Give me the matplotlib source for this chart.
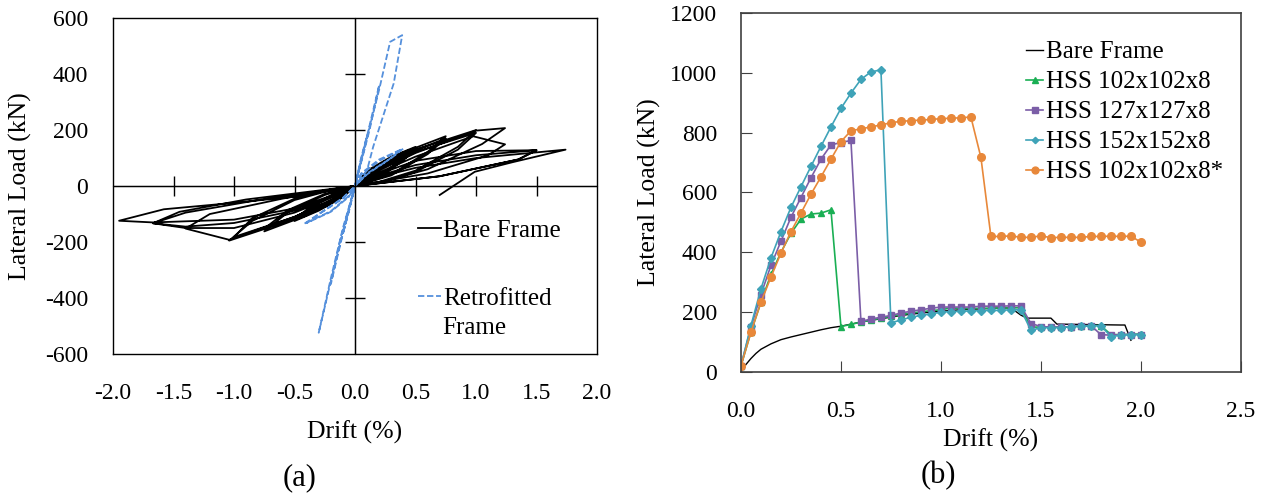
import matplotlib.pyplot as plt

plt.rcParams['font.family'] = ['Liberation Serif', 'DejaVu Serif']
plt.rcParams['axes.unicode_minus'] = False

# ---- (a) cyclic response: bare frame vs retrofitted frame ----
bare_drift = [0.00, 0.08, 0.25, 0.18, 0.08, 0.00, -0.08, -0.25, -0.15, -0.05, 0.00,
              0.10, 0.30, 0.50, 0.40, 0.20, 0.00, -0.10, -0.30, -0.50, -0.35, -0.15, 0.00,
              0.10, 0.30, 0.50, 0.40, 0.20, 0.00, -0.10, -0.30, -0.50, -0.35, -0.15, 0.00,
              0.10, 0.40, 0.75, 0.60, 0.30, 0.00, -0.10, -0.40, -0.75, -0.55, -0.25, 0.00,
              0.10, 0.40, 0.75, 0.60, 0.30, 0.00, -0.10, -0.40, -0.75, -0.55, -0.25, 0.00,
              0.10, 0.50, 1.00, 0.85, 0.50, 0.20, 0.00, -0.10, -0.50, -1.04, -0.85, -0.50, -0.20, 0.00,
              0.10, 0.50, 1.00, 0.85, 0.50, 0.20, 0.00, -0.10, -0.50, -1.00, -0.85, -0.50, -0.20, 0.00,
              0.10, 0.50, 1.00, 1.24, 1.05, 0.60, 0.20, 0.00, -0.10, -0.50, -1.04, -1.40, -1.20, -0.60, 0.00,
              0.10, 0.50, 0.975, 1.24, 1.10, 0.60, 0.00, -0.10, -0.50, -1.00, -1.40, -1.67, -1.40, -0.80, 0.00,
              0.10, 0.50, 1.00, 1.50, 1.35, 0.70, 0.00, -0.10, -0.50, -1.00, -1.40, -1.67, -1.45, -0.90, 0.00,
              0.10, 0.50, 1.00, 1.50, 1.35, 0.70, 0.00, -0.10, -0.50, -1.00, -1.67, -1.95, -1.58, -1.00, -0.50, 0.00,
              0.10, 0.50, 1.00, 1.74, 1.30, 0.99, 0.70]
bare_load = [0, 40, 90, 55, 18, 0, -30, -75, -40, -10, 0,
             55, 105, 140, 100, 35, 0, -40, -88, -125, -75, -25, 0,
             48, 95, 132, 92, 30, 0, -35, -80, -118, -68, -22, 0,
             50, 120, 178, 122, 42, 0, -38, -105, -162, -92, -32, 0,
             44, 110, 170, 114, 38, 0, -34, -96, -152, -85, -28, 0,
             45, 130, 200, 140, 55, 15, 0, -35, -118, -195, -125, -50, -15, 0,
             40, 122, 190, 130, 50, 12, 0, -32, -110, -182, -115, -45, -12, 0,
             35, 118, 198, 207, 150, 60, 12, 0, -30, -110, -192, -152, -100, -45, 0,
             30, 105, 178, 149, 110, 45, 0, -25, -95, -150, -150, -133, -95, -50, 0,
             28, 90, 125, 128, 95, 35, 0, -22, -88, -132, -145, -133, -92, -48, 0,
             25, 75, 110, 128, 95, 35, 0, -20, -80, -120, -130, -124, -83, -60, -38, 0,
             22, 65, 100, 130, 85, 51, -32]

retro_drift = [0.00, 0.05, 0.20, 0.40, 0.30, 0.10, 0.00, -0.05, -0.20, -0.42, -0.30, -0.10, 0.00,
               0.05, 0.20, 0.38, 0.28, 0.10, 0.00, -0.05, -0.20, -0.40, -0.28, -0.10, 0.00,
               0.05, 0.10, 0.05, 0.00, -0.05, -0.10, -0.05, 0.00,
               0.10, 0.20, 0.12, 0.00, -0.10, -0.20, -0.12, 0.00,
               0.10, 0.20, 0.29, 0.39, 0.32, 0.15, 0.10, 0.00, -0.10, -0.20, -0.30, -0.20, -0.10, 0.00]
retro_load = [0, 40, 90, 134, 100, 45, 0, -35, -90, -135, -100, -45, 0,
              45, 95, 130, 95, 42, 0, -38, -92, -132, -95, -42, 0,
              90, 180, 100, 0, -85, -170, -90, 0,
              180, 360, 200, 0, -170, -350, -190, 0,
              175, 345, 515, 539, 367, 140, 57, 0, -165, -340, -524, -330, -150, 0]

# ---- (b) pushover curves ----
drift_b = [0.00, 0.05, 0.10, 0.15, 0.20, 0.25, 0.30, 0.35, 0.40, 0.45, 0.50,
           0.55, 0.60, 0.65, 0.70, 0.75, 0.80, 0.85, 0.90, 0.95, 1.00,
           1.05, 1.10, 1.15, 1.20, 1.25, 1.30, 1.35, 1.40, 1.45, 1.50,
           1.55, 1.60, 1.65, 1.70, 1.75, 1.80, 1.85, 1.90, 1.95, 2.00]

bare_b_drift = [0.00, 0.025, 0.05, 0.075, 0.10, 0.15, 0.20, 0.25, 0.30, 0.35, 0.40, 0.45, 0.50,
                0.60, 0.70, 0.80, 0.90, 1.00, 1.10, 1.20, 1.30, 1.35, 1.40, 1.43, 1.55, 1.58,
                1.90, 1.92, 1.95]
bare_b_load = [0, 25, 45, 62, 76, 94, 108, 117, 125, 133, 141, 148, 153,
               167, 178, 189, 197, 203, 208, 211, 214, 214, 190, 180, 180, 160,
               157, 157, 106]

hss102 = [20, 133, 233, 326, 400, 463, 511, 528, 531, 542, 152,
          159, 167, 173, 180, 186, 192, 197, 201, 205, 208,
          214, 212, 212, 213, 213, 214, 214, 215, 150, 150,
          150, 150, 151, 153, 155, 155, 125, 125, 126, 127]
hss127 = [20, 150, 259, 356, 437, 517, 583, 649, 711, 759, 767,
          774, 169, 177, 183, 189, 197, 203, 208, 213, 217,
          217, 217, 217, 220, 220, 220, 221, 221, 162, 152,
          150, 150, 151, 155, 155, 125, 123, 125, 125, 125]
hss152 = [20, 155, 278, 381, 469, 550, 619, 687, 754, 819, 881,
          932, 978, 1003, 1010, 164, 174, 183, 189, 194, 200,
          202, 203, 204, 205, 206, 206, 208, 208, 139, 148,
          148, 148, 152, 153, 155, 155, 118, 123, 125, 125]
hss102s = [20, 133, 233, 317, 397, 469, 531, 594, 652, 711, 770,
           806, 813, 819, 826, 833, 838, 840, 842, 844, 847,
           848, 850, 852, 717, 453, 453, 455, 450, 450, 455,
           449, 450, 450, 450, 453, 453, 454, 453, 454, 434]

fig = plt.figure(figsize=(12.67, 4.94), dpi=100)

# ---------- panel (a) ----------
ax = fig.add_axes([0.0892, 0.2834, 0.382, 0.680])
ax.plot(bare_drift, bare_load, color='black', lw=1.3, label='Bare Frame')
ax.plot(retro_drift, retro_load, color='#5590dc', lw=1.3, ls=(0, (3.5, 1.5)),
        label='Retrofitted')
ax.set_xlim(-2, 2)
ax.set_ylim(-600, 600)
ax.set_xticks([-2.0, -1.5, -1.0, -0.5, 0.0, 0.5, 1.0, 1.5, 2.0])
ax.set_xticklabels(['%.1f' % v for v in ax.get_xticks()])
ax.set_yticks([-600, -400, -200, 0, 200, 400, 600])
ax.tick_params(length=0, labelsize=17)
ax.tick_params(axis='x', pad=21)
ax.tick_params(axis='y', pad=18)
for s in ax.spines.values():
    s.set_linewidth(1.0)
ax.axhline(0, color='black', lw=1.0)
ax.axvline(0, color='black', lw=1.0)
ax.set_xlabel('Drift (%)', fontsize=18.5, va='top')
ax.xaxis.set_label_coords(0.5, -0.199)
ax.set_ylabel('Lateral Load (kN)', fontsize=18.5)
ax.yaxis.set_label_coords(-0.167, 0.5)
ax.legend(loc='upper left', bbox_to_anchor=(0.61, 0.43), frameon=False,
          fontsize=18, handlelength=0.9, handletextpad=0.1, labelspacing=1.8,
          borderaxespad=0)
ax.text(0.681, 0.06, 'Frame', transform=ax.transAxes, fontsize=18,
        ha='left', va='baseline')

# crossing tick marks on the zero axes
axz = fig.add_axes(ax.get_position(), facecolor='none')
axz.set_xlim(-2, 2)
axz.set_ylim(-600, 600)
axz.spines['top'].set_visible(False)
axz.spines['right'].set_visible(False)
axz.spines['left'].set_position(('data', 0))
axz.spines['bottom'].set_position(('data', 0))
axz.set_xticks([-1.5, -1.0, -0.5, 0.5, 1.0, 1.5])
axz.set_yticks([-400, -200, 200, 400])
axz.tick_params(direction='inout', length=14, width=1.0,
                labelbottom=False, labelleft=False)

# ---------- panel (b) ----------
bx = fig.add_axes([0.5848, 0.247, 0.3946, 0.7267])
bx.plot(bare_b_drift, bare_b_load, color='black', lw=1.0, label='Bare Frame')
bx.plot(drift_b, hss102, color='#1aaf54', lw=1.2, marker='^', ms=5,
        label='HSS 102x102x8')
bx.plot(drift_b, hss127, color='#7b5ea7', lw=1.2, marker='s', ms=5,
        label='HSS 127x127x8')
bx.plot(drift_b, hss152, color='#3fa3b8', lw=1.2, marker='D', ms=3.6,
        label='HSS 152x152x8')
bx.plot(drift_b, hss102s, color='#e8883a', lw=1.2, marker='o', ms=5.5,
        label='HSS 102x102x8*')
bx.set_xlim(0, 2.5)
bx.set_ylim(0, 1200)
bx.set_xticks([0.0, 0.5, 1.0, 1.5, 2.0, 2.5])
bx.set_xticklabels(['%.1f' % v for v in bx.get_xticks()])
bx.set_yticks([0, 200, 400, 600, 800, 1000, 1200])
bx.tick_params(direction='in', length=8, color='#404040', labelsize=17)
bx.tick_params(axis='x', pad=21)
bx.tick_params(axis='y', pad=17)
for s in bx.spines.values():
    s.set_color('#404040')
    s.set_linewidth(1.2)
bx.set_xlabel('Drift (%)', fontsize=18.5, va='top')
bx.xaxis.set_label_coords(0.5, -0.159)
bx.set_ylabel('Lateral Load (kN)', fontsize=18.5)
bx.yaxis.set_label_coords(-0.16, 0.5)
bx.legend(loc='upper left', bbox_to_anchor=(0.55, 0.95), frameon=False,
          fontsize=18, handlelength=0.7, handletextpad=0.1, labelspacing=0.3,
          borderaxespad=0, markerscale=0.9)

fig.text(300 / 1267, 1 - 478 / 494, '(a)', fontsize=22, ha='center', va='center')
fig.text(938 / 1267, 1 - 476 / 494, '(b)', fontsize=22, ha='center', va='center')

fig.savefig('out.png', dpi=100)
